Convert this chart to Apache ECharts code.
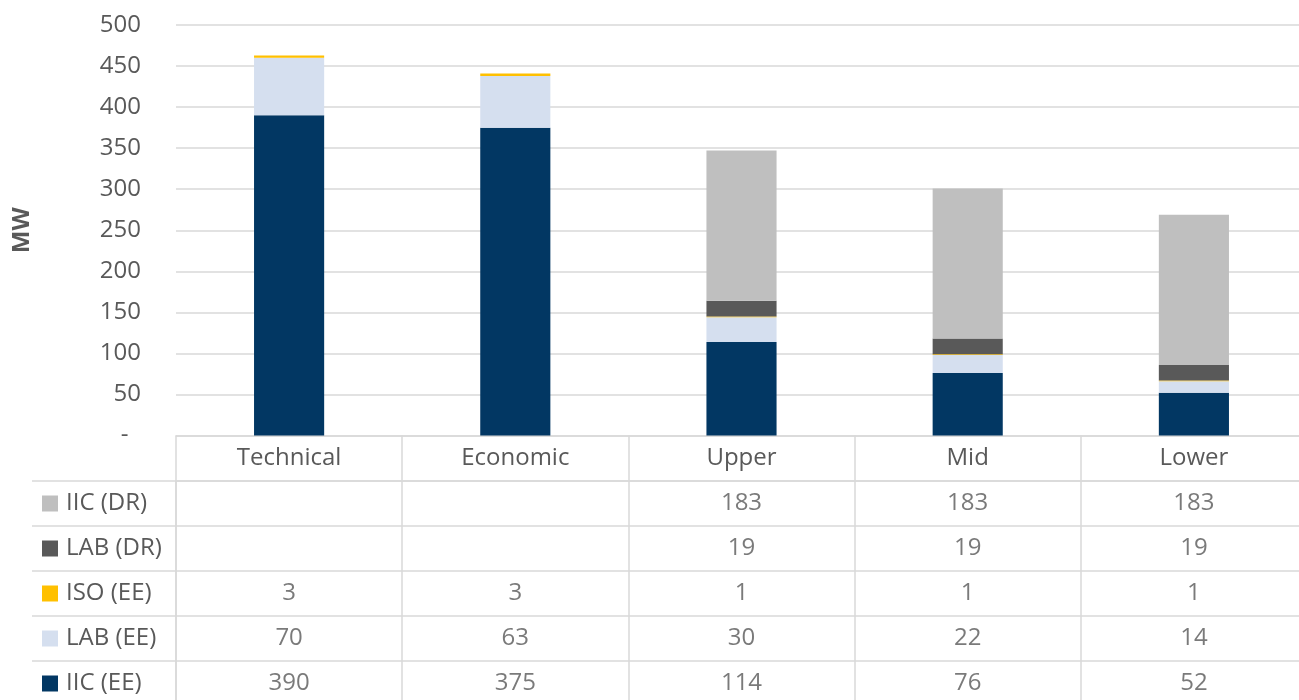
<!DOCTYPE html>
<html>
<head>
<meta charset="utf-8">
<script src="https://cdn.jsdelivr.net/npm/echarts@6/dist/echarts.min.js"></script>
<style>
html,body{margin:0;padding:0;background:#fff;}
#c{width:1299px;height:700px;}
</style>
</head>
<body>
<div id="c"></div>
<script>
const categories = ['Technical', 'Economic', 'Upper', 'Mid', 'Lower'];
const iicDR = [null, null, 183, 183, 183];
const labDR = [null, null, 19, 19, 19];
const isoEE = [3, 3, 1, 1, 1];
const labEE = [70, 63, 30, 22, 14];
const iicEE = [390, 375, 114, 76, 52];
const yTicks = { min: 0, max: 500, interval: 50 };

const seriesDefs = [
  { name: 'IIC (DR)', data: iicDR, color: '#bfbfbf' },
  { name: 'LAB (DR)', data: labDR, color: '#595959' },
  { name: 'ISO (EE)', data: isoEE, color: '#ffc000' },
  { name: 'LAB (EE)', data: labEE, color: '#d5dfef' },
  { name: 'IIC (EE)', data: iicEE, color: '#023763' }
];
const rowNames = seriesDefs.map(s => s.name);

const FONT = '"Open Sans", "Liberation Sans", sans-serif';
const FS = 24;
const TXT = '#595959';
const LINE = '#d9d9d9';

const rich = { g: { width: 8 }, t: { fontSize: FS, color: TXT, fontFamily: FONT } };
seriesDefs.forEach((s, i) => {
  rich['s' + i] = { width: 16, height: 16, backgroundColor: s.color };
});

const barSeries = seriesDefs.slice().reverse().map(s => ({
  type: 'bar',
  name: s.name,
  stack: 'total',
  xAxisIndex: 0,
  yAxisIndex: 0,
  barWidth: '31%',
  itemStyle: { color: s.color },
  data: s.data
}));

const tableData = [];
seriesDefs.forEach(s => {
  s.data.forEach((v, i) => {
    if (v !== null) tableData.push([categories[i], s.name, v]);
  });
});

const option = {
  animation: false,
  backgroundColor: '#fff',
  grid: [
    { left: 176, width: 1131, top: 25, height: 410.5, outerBoundsMode: 'none', containLabel: false },
    { left: 176, width: 1131, top: 481, height: 225, outerBoundsMode: 'none', containLabel: false }
  ],
  xAxis: [
    {
      gridIndex: 0, type: 'category', data: categories,
      axisLine: { show: true, lineStyle: { color: LINE, width: 1.5 } },
      axisTick: { show: true, length: 45, lineStyle: { color: LINE, width: 1.5 } },
      axisLabel: { fontSize: FS, color: TXT, fontFamily: FONT, margin: 23, verticalAlign: 'middle' },
      splitLine: { show: false }
    },
    {
      gridIndex: 1, type: 'category', data: categories, position: 'top',
      axisLine: { show: true, lineStyle: { color: LINE, width: 1.5 } },
      axisTick: { show: false },
      axisLabel: { show: false },
      splitLine: { show: true, lineStyle: { color: LINE, width: 1.5 } }
    }
  ],
  yAxis: [
    {
      gridIndex: 0, type: 'value', min: yTicks.min, max: yTicks.max, interval: yTicks.interval,
      name: 'MW', nameLocation: 'middle', nameRotate: 90, nameGap: 142,
      nameTextStyle: { fontSize: FS, fontWeight: 'bold', color: TXT, fontFamily: FONT },
      axisLine: { show: false },
      axisTick: { show: false },
      axisLabel: {
        fontSize: FS, color: TXT, fontFamily: FONT, margin: 35,
        formatter: v => (v === 0 ? '-  ' : String(v))
      },
      splitLine: { show: true, lineStyle: { color: LINE, width: 1.5 } }
    },
    {
      gridIndex: 1, type: 'category', data: rowNames, inverse: true,
      axisLine: { show: true, lineStyle: { color: LINE, width: 1.5 } },
      axisTick: { show: true, inside: false, length: 144, lineStyle: { color: LINE, width: 1.5 } },
      axisLabel: {
        margin: 134, align: 'left',
        formatter: (v, i) => '{s' + i + '|}{g|}{t|' + v + '}',
        rich: rich
      },
      splitLine: { show: true, lineStyle: { color: LINE, width: 1.5 } }
    },
    {
      gridIndex: 1, type: 'category', data: rowNames, inverse: true, offset: 144,
      axisLine: { show: true, lineStyle: { color: LINE, width: 1.5 } },
      axisTick: { show: false },
      axisLabel: { show: false },
      splitLine: { show: false }
    }
  ],
  series: barSeries.concat([{
    type: 'scatter',
    xAxisIndex: 1,
    yAxisIndex: 1,
    symbolSize: 0,
    itemStyle: { color: 'rgba(0,0,0,0)' },
    label: {
      show: true, position: 'inside',
      fontSize: FS, color: TXT, fontFamily: FONT,
      formatter: p => String(p.value[2])
    },
    data: tableData
  }])
};

const chart = echarts.init(document.getElementById('c'), null, { renderer: 'canvas' });
chart.setOption(option);
</script>
</body>
</html>
